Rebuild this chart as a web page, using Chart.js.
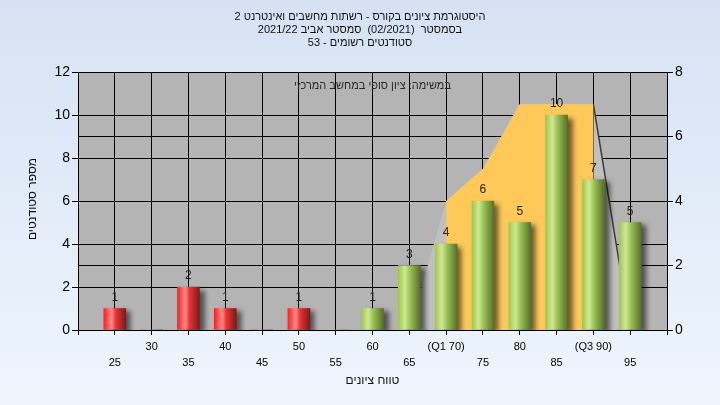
<!DOCTYPE html>
<html><head><meta charset="utf-8">
<script src="https://cdn.jsdelivr.net/npm/chart.js@4.4.0/dist/chart.umd.min.js"></script>
<style>html,body{margin:0;padding:0;background:#e4edf8;}#wrap{width:720px;height:405px;}</style>
</head><body><div id="wrap"><canvas id="c" width="720" height="405"></canvas></div>
<script>
const categories = ['20','25','30','35','40','45','50','55','60','65','70','75','80','85','90','95','100'];
const tickLabels = ['','25','30','35','40','45','50','55','60','65','(Q1 70)','75','80','85','(Q3 90)','95',''];
const studentCounts = [null,1,0,2,1,0,1,0,1,3,4,6,5,10,7,5,null];
const distributionCurve = [null,null,null,null,null,null,null,null,null,0,4,5,7,7,7,0,null];
const interquartileBand = [null,null,null,null,null,null,null,null,null,null,4,5,7,7,7,null,null];
const leftTicks = {min:0, max:12, step:2};
const rightTicks = {min:0, max:8, step:2};
const titleLines = ['היסטוגרמת ציונים בקורס - רשתות מחשבים ואינטרנט 2','בסמסטר  (02/2021)  סמסטר אביב 2021/22','סטודנטים רשומים - 53'];
const noteText = 'במשימה: ציון סופי במחשב המרכזי';
const xTitle = 'טווח ציונים';
const yTitle = 'מספר סטודנטים';
const passMark = 55;

const FONT = '"Liberation Sans", "DejaVu Sans", sans-serif';

function rtlText(ctx, text, cx, cy){
  ctx.direction = 'rtl';
  ctx.textAlign = 'center';
  ctx.textBaseline = 'middle';
  ctx.fillText(text, cx, cy);
}

function barFill(c){
  const chart = c.chart;
  if (!chart.chartArea || c.dataIndex === undefined) return '#e03030';
  const x = chart.scales.x.getPixelForValue(c.dataIndex);
  const half = 11;
  const g = chart.ctx.createLinearGradient(x - half, 0, x + half, 0);
  const pass = Number(categories[c.dataIndex]) >= passMark;
  if (pass) {
    g.addColorStop(0, '#9fc84a'); g.addColorStop(0.3, '#cfe896');
    g.addColorStop(0.55, '#98bf52'); g.addColorStop(1, '#55702b');
  } else {
    g.addColorStop(0, '#ff2020'); g.addColorStop(0.35, '#ff8c8c');
    g.addColorStop(0.55, '#e83232'); g.addColorStop(1, '#7c1b1b');
  }
  return g;
}

const bgPlugin = {
  id: 'bg',
  beforeDraw(chart){
    const {ctx, chartArea:a, width, height} = chart;
    ctx.save();
    const g = ctx.createLinearGradient(0,0,0,height);
    g.addColorStop(0,'#d6e2f3'); g.addColorStop(1,'#eef5fd');
    ctx.fillStyle = g; ctx.fillRect(0,0,width,height);
    ctx.fillStyle = '#b4b4b4';
    ctx.fillRect(a.left, a.top, a.right-a.left, a.bottom-a.top);
    ctx.restore();
  },
  beforeDatasetDraw(chart, args){
    if (args.index !== 0) return;
    const ctx = chart.ctx; ctx.save();
    ctx.shadowColor = 'rgba(0,0,0,0.55)'; ctx.shadowBlur = 5;
    ctx.shadowOffsetX = 5; ctx.shadowOffsetY = 3;
  },
  afterDatasetDraw(chart, args){
    if (args.index !== 0) return;
    chart.ctx.restore();
  },
  afterDatasetsDraw(chart){
    const ctx = chart.ctx, a = chart.chartArea;
    const meta = chart.getDatasetMeta(0);
    ctx.save();
    ctx.font = '12px ' + FONT; ctx.fillStyle = '#222';
    ctx.textAlign = 'center'; ctx.textBaseline = 'middle';
    meta.data.forEach((el, i) => {
      const v = studentCounts[i];
      if (!v) return;
      ctx.fillText(String(v), el.x, el.y - 11);
    });
    ctx.font = '11px ' + FONT; ctx.fillStyle = '#2a2a2a';
    rtlText(ctx, noteText, (a.left + a.right)/2, a.top + 14);
    ctx.restore();
  },
  afterDraw(chart){
    const ctx = chart.ctx, a = chart.chartArea;
    ctx.save();
    ctx.font = '11px ' + FONT; ctx.fillStyle = '#111';
    titleLines.forEach((t, i) => rtlText(ctx, t, 360, 17 + i * 13));
    ctx.font = '12px ' + FONT;
    rtlText(ctx, xTitle, (a.left + a.right)/2, 381);
    ctx.translate(33, 199);
    ctx.rotate(-Math.PI/2);
    rtlText(ctx, yTitle, 0, 0);
    ctx.restore();
  }
};

new Chart(document.getElementById('c'), {
  data: {
    labels: categories,
    datasets: [
      {type:'bar', data: studentCounts, yAxisID:'y', barThickness:22,
       backgroundColor: barFill, borderWidth:0, order:0},
      {type:'line', data: interquartileBand, yAxisID:'y2', fill:'origin',
       backgroundColor:'#ffc95a', borderColor:'rgba(0,0,0,0)', borderWidth:0,
       pointRadius:0, tension:0, order:1},
      {type:'line', data: distributionCurve, yAxisID:'y2', fill:'origin',
       backgroundColor:'#c0c0c0', borderWidth:1.5, pointRadius:0, tension:0, order:2,
       segment:{borderColor: s => s.p0DataIndex === 14 ? '#3a3a3a' : 'rgba(0,0,0,0)'}}
    ]
  },
  options: {
    responsive:false, animation:false, devicePixelRatio:1,
    layout:{padding:{left:0,right:0,top:72,bottom:0}},
    plugins:{ legend:{display:false}, tooltip:{enabled:false}, title:{display:false} },
    scales:{
      x:{type:'category', offset:false,
        grid:{color:'#000', lineWidth:1, tickLength:5, offset:false},
        border:{color:'#000'},
        ticks:{autoSkip:false, maxRotation:0, minRotation:0, color:'#000', padding:4,
          font:{family:FONT, size:11, lineHeight:1.45},
          callback:(v, i) => i % 2 === 0 ? [tickLabels[i], ''] : ['', tickLabels[i]]},
        afterFit: s => { s.height = 75; }
      },
      y:{position:'left', min:leftTicks.min, max:leftTicks.max,
        ticks:{stepSize:leftTicks.step, color:'#000', font:{family:FONT, size:14}, padding:2},
        grid:{color:'#000', lineWidth:1, tickLength:6}, border:{color:'#000'},
        afterFit: s => { s.width = 78; }
      },
      y2:{position:'right', min:rightTicks.min, max:rightTicks.max,
        ticks:{stepSize:rightTicks.step, color:'#000', font:{family:FONT, size:14}, padding:2},
        grid:{color:'#000', lineWidth:1, tickLength:6, drawOnChartArea:true}, border:{color:'#000'},
        afterFit: s => { s.width = 53; }
      }
    }
  },
  plugins:[bgPlugin]
});
</script></body></html>
